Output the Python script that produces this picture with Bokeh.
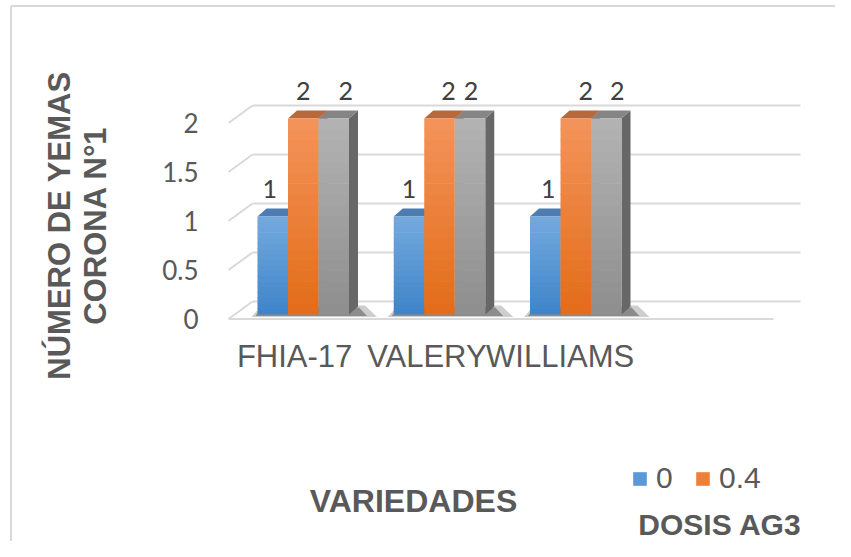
import math
from bokeh.plotting import figure
from bokeh.models import Range1d, Legend, LegendItem
from bokeh.core.properties import value
from bokeh.embed import file_html
from bokeh.resources import INLINE

# ---------------- data ----------------
categories = ["FHIA-17", "VALERY", "WILLIAMS"]
n_slots = 4                      # the category axis holds 4 slots, the last one empty
series_names = ["0", "0.4", "serie 3"]
dosis_0 = [1, 1, 1]
dosis_04 = [2, 2, 2]
dosis_s3 = [2, 2, 2]
y_ticks = [0, 0.5, 1, 1.5, 2]
y_tick_labels = ["0", "0.5", "1", "1.5", "2"]
y_title_lines = ["NÚMERO DE YEMAS", "CORONA N°1"]
x_title = "VARIEDADES"
legend_title = "DOSIS AG3"

# ---------------- layout / style ----------------
W, H = 835, 541
OX, OY = 228.0, 318.5            # canvas px of (slot 0 front-left, value 0 on front edge)
PXC, PXV = 136.25, 98.0          # px per category slot, px per value unit


def dx(px):
    return px / PXC


def dy(px):
    return px / PXV


def cx(px_x):
    return (px_x - OX) / PXC


def cy(px_y):
    return (OY - px_y) / PXV


GROUP_START = dx(29)
BAR_W = dx(30.5)
FRONT_BASE = dy(4.5)
DEPTH_X, DEPTH_Y = dx(9), dy(8)
WALL_X, WALL_Y = dx(24), dy(17.5)
GRID_COL = "#d9d9d9"
TXT = "#595959"

front_top = ["#74a9de", "#f4945b", "#b3b3b3"]
front_bot = ["#3f84c9", "#e36c18", "#8e8e8e"]
top_col = ["#4d7db0", "#b8693c", "#858585"]
side_col = ["#6a6a6a", "#a85a22", "#676767"]
label_dx = [[-3, 0, 3], [0, 9, 10], [12, 1, 11]]   # px nudges of data labels
cat_dx = [-2, -6, -9]                               # px nudges of category labels


def hex2rgb(h):
    return tuple(int(h[i:i + 2], 16) for i in (1, 3, 5))


def mix(c1, c2, t):
    a, b = hex2rgb(c1), hex2rgb(c2)
    return "#%02x%02x%02x" % tuple(round(a[k] + (b[k] - a[k]) * t) for k in range(3))


p = figure(width=W, height=H, x_range=Range1d(cx(0), cx(W)),
           y_range=Range1d(cy(H), cy(0)), toolbar_location=None,
           output_backend="svg", min_border=0,
           x_axis_location=None, y_axis_location=None)
p.grid.visible = False
p.outline_line_color = None
p.background_fill_color = "white"
p.border_fill_color = "white"

# chart border
p.segment(x0=[cx(10.5), cx(10.5)], y0=[cy(H), cy(5.5)], x1=[cx(10.5), cx(W)],
          y1=[cy(5.5), cy(5.5)], line_color=GRID_COL, line_width=2)

# walls / gridlines
back_x0 = WALL_X
back_x1 = n_slots + dx(27)
p.segment(x0=[back_x0] * len(y_ticks), x1=[back_x1] * len(y_ticks),
          y0=[v + WALL_Y for v in y_ticks], y1=[v + WALL_Y for v in y_ticks],
          line_color=GRID_COL, line_width=2)
p.segment(x0=[0] * len(y_ticks), x1=[WALL_X] * len(y_ticks),
          y0=y_ticks, y1=[v + WALL_Y for v in y_ticks], line_color=GRID_COL, line_width=2)
p.segment(x0=[0], x1=[n_slots], y0=[y_ticks[0]], y1=[y_ticks[0]],
          line_color=GRID_COL, line_width=2)

# bars
series = [dosis_0, dosis_04, dosis_s3]
K = 18
fl, fr, fb, ft, fc = [], [], [], [], []
txs, tys, tcs = [], [], []
sxs, sys_, scs = [], [], []
shx1, shy1, shx2, shy2 = [], [], [], []
lx, ly, lt = [], [], []
legend_index = {}
for i in range(len(categories)):
    gl = i + GROUP_START
    gr = gl + len(series) * BAR_W
    b = FRONT_BASE
    shx1.append([gl - dx(6), gr + dx(28), gr + dx(16), gl + dx(4)])
    shy1.append([b - dy(2.5), b - dy(2.5), b + dy(9), b + dy(9)])
    shx2.append([gl - dx(2), gr + dx(18), gr + dx(10), gl + dx(4)])
    shy2.append([b - dy(1.5), b - dy(1.5), b + dy(7), b + dy(7)])
    for j, vals in enumerate(series):
        v = vals[i]
        l = gl + j * BAR_W
        r = l + BAR_W
        t = FRONT_BASE + v
        sxs.append([r, r + DEPTH_X, r + DEPTH_X, r])
        sys_.append([b, b + DEPTH_Y, t + DEPTH_Y, t])
        scs.append(side_col[j])
        txs.append([l, r, r + DEPTH_X, l + DEPTH_X])
        tys.append([t, t, t + DEPTH_Y, t + DEPTH_Y])
        tcs.append(top_col[j])
        for k in range(K):
            y0 = b + (t - b) * k / K
            y1 = b + (t - b) * (k + 1) / K
            if i == 0 and k == K // 2:
                legend_index[j] = len(fl)
            fl.append(l)
            fr.append(r)
            fb.append(y0)
            ft.append(y1 + (dy(0.7) if k < K - 1 else 0))
            fc.append(mix(front_bot[j], front_top[j], (k + 0.5) / K))
        lx.append((l + r) / 2 + dx(label_dx[j][i]))
        ly.append(t + dy(28))
        lt.append(str(v))

p.patches(xs=shx1, ys=shy1, fill_color="#3a3a3a", fill_alpha=0.25, line_color=None)
p.patches(xs=shx2, ys=shy2, fill_color="#2a2a2a", fill_alpha=0.4, line_color=None)
p.patches(xs=sxs, ys=sys_, fill_color=scs, line_color=None)
p.patches(xs=txs, ys=tys, fill_color=tcs, line_color=None)
fronts = p.quad(left=fl, right=fr, bottom=fb, top=ft, fill_color=fc, line_color=None)

# data labels
p.text(x=lx, y=ly, text=lt, text_align="center", text_baseline="middle",
       text_font=value("Lato"), text_font_size="25px", text_color="#404040")

# y tick labels
p.text(x=[dx(-30)] * len(y_ticks), y=y_ticks, text=y_tick_labels, text_align="right",
       text_baseline="middle", text_font=value("Lato"), text_font_size="26px", text_color=TXT)

# category labels
p.text(x=[i + 0.5 + dx(cat_dx[i]) for i in range(len(categories))],
       y=[dy(-37.5)] * len(categories), text=categories, text_align="center",
       text_baseline="middle", text_font=value("Liberation Sans"), text_font_size="31px",
       text_color=TXT)

# axis titles
p.text(x=[cx(58.5), cx(94.5)], y=[cy(225), cy(225)], text=y_title_lines, angle=math.pi / 2,
       text_align="center", text_baseline="middle", text_font=value("Liberation Sans"),
       text_font_style="bold", text_font_size="31px", text_color=TXT)
p.text(x=[cx(413)], y=[cy(500)], text=[x_title], text_align="center", text_baseline="middle",
       text_font=value("Liberation Sans"), text_font_style="bold", text_font_size="32px",
       text_color=TXT)
p.text(x=[cx(719.5)], y=[cy(524)], text=[legend_title], text_align="center",
       text_baseline="middle", text_font=value("Liberation Sans"), text_font_style="bold",
       text_font_size="30px", text_color=TXT)

# legend (first two series only, as in the original)
legend = Legend(items=[LegendItem(label=series_names[0], renderers=[fronts], index=legend_index[0]),
                       LegendItem(label=series_names[1], renderers=[fronts], index=legend_index[1])],
                orientation="horizontal", location=(631, 46),
                label_text_font="Liberation Sans", label_text_font_size="30px",
                label_text_color=TXT, glyph_width=17, glyph_height=17, label_standoff=8,
                spacing=18, padding=0, margin=0, border_line_color=None,
                background_fill_alpha=0)
p.add_layout(legend)

open("out.html", "w").write(file_html(p, INLINE))
